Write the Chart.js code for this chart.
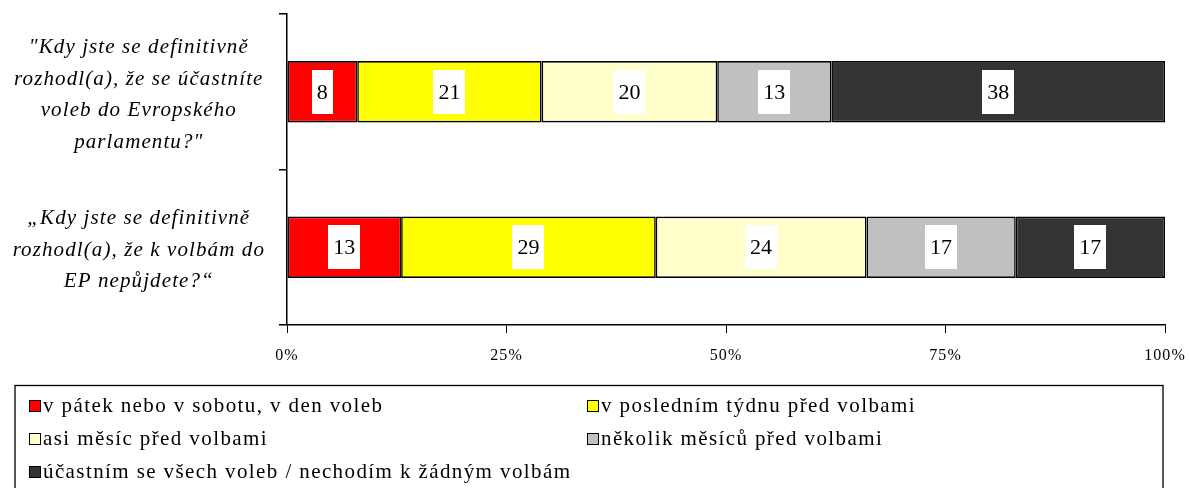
<!DOCTYPE html>
<html>
<head>
<meta charset="utf-8">
<script src="https://cdn.jsdelivr.net/npm/chart.js@4.4.1/dist/chart.umd.min.js"></script>
<style>
html,body{margin:0;padding:0;background:#fff;}
#wrap{width:1189px;height:488px;position:relative;}
</style>
</head>
<body>
<div id="wrap"><canvas id="c" width="1189" height="488"></canvas></div>
<script>
const categories = [
  ['"Kdy jste se definitivně', 'rozhodl(a), že se účastníte', 'voleb do Evropského', 'parlamentu?"'],
  ['„Kdy jste se definitivně', 'rozhodl(a), že k volbám do', 'EP nepůjdete?“']
];
const seriesNames = [
  'v pátek nebo v sobotu, v den voleb',
  'v posledním týdnu před volbami',
  'asi měsíc před volbami',
  'několik měsíců před volbami',
  'účastním se všech voleb / nechodím k žádným volbám'
];
const friSat = [8, 13];
const lastWeek = [21, 29];
const monthBefore = [20, 24];
const monthsBefore = [13, 17];
const always = [38, 17];
const tickLabels = ['0%', '25%', '50%', '75%', '100%'];
const colors = ['#FF0000', '#FFFF00', '#FFFFCC', '#C0C0C0', '#333333'];

const serif = '"Liberation Serif", "Times New Roman", serif';

const seriesValues = [friSat, lastWeek, monthBefore, monthsBefore, always];
const datasets = seriesValues.map((vals, i) => ({
  label: seriesNames[i],
  data: vals,
  backgroundColor: colors[i],
  borderColor: '#000',
  borderWidth: 1.6,
  borderSkipped: false,
  categoryPercentage: 1,
  barPercentage: 0.395
}));

const spacing = {
  id: 'spacing',
  beforeUpdate(chart) { chart.ctx.letterSpacing = '1.1px'; },
  beforeLayout(chart) { chart.ctx.letterSpacing = '1.1px'; },
  beforeDraw(chart) { chart.ctx.letterSpacing = '1.1px'; }
};

const valueLabels = {
  id: 'valueLabels',
  afterDatasetsDraw(chart) {
    const ctx = chart.ctx;
    ctx.save();
    ctx.letterSpacing = '0px';
    ctx.font = '22px ' + serif;
    ctx.textAlign = 'center';
    ctx.textBaseline = 'middle';
    chart.data.datasets.forEach((ds, di) => {
      const meta = chart.getDatasetMeta(di);
      meta.data.forEach((el, i) => {
        const v = ds.data[i];
        const txt = String(v);
        const cx = (el.x + el.base) / 2;
        const cy = el.y;
        const w = ctx.measureText(txt).width + 10;
        const h = 44;
        ctx.fillStyle = '#fff';
        ctx.fillRect(Math.round(cx - w / 2), Math.round(cy - h / 2), Math.round(w), h);
        ctx.fillStyle = '#000';
        ctx.fillText(txt, cx, cy + 1);
      });
    });
    ctx.restore();
  }
};

const boxLegend = {
  id: 'boxLegend',
  afterDraw(chart) {
    const ctx = chart.ctx;
    ctx.save();
    ctx.strokeStyle = '#000';
    ctx.lineWidth = 1.3;
    ctx.strokeRect(15, 385.5, 1148, 120);
    const colX = [29, 587];
    const rowY = [405, 438, 471];
    ctx.letterSpacing = '1.4px';
    ctx.font = '21px ' + serif;
    ctx.textBaseline = 'middle';
    ctx.textAlign = 'left';
    ctx.lineWidth = 1;
    chart.data.datasets.forEach((ds, i) => {
      const x = colX[i % 2];
      const y = rowY[Math.floor(i / 2)];
      ctx.fillStyle = ds.backgroundColor;
      ctx.fillRect(x, y - 5, 12, 12);
      ctx.strokeStyle = '#000';
      ctx.strokeRect(x + 0.5, y - 4.5, 11, 11);
      ctx.fillStyle = '#000';
      ctx.fillText(ds.label, x + 14, y + 1);
    });
    ctx.restore();
  }
};

new Chart(document.getElementById('c'), {
  type: 'bar',
  data: { labels: categories, datasets },
  plugins: [spacing, valueLabels, boxLegend],
  options: {
    indexAxis: 'y',
    responsive: false,
    animation: false,
    layout: { padding: { top: 14, right: 24, bottom: 113, left: 0 } },
    plugins: { legend: { display: false }, tooltip: { enabled: false } },
    scales: {
      x: {
        stacked: true,
        min: 0,
        max: 100,
        afterFit(s) { s.height = 50; s.paddingLeft = 0; s.paddingRight = 0; },
        border: { display: true, color: '#000', width: 1.5 },
        grid: { display: true, drawOnChartArea: false, drawTicks: true, tickLength: 8, color: '#000', lineWidth: 1 },
        ticks: {
          stepSize: 25,
          padding: 13,
          color: '#000',
          font: { family: serif, size: 16 },
          callback: (v) => tickLabels[v / 25]
        }
      },
      y: {
        stacked: true,
        afterFit(s) { s.width = 287; s.paddingTop = 0; s.paddingBottom = 0; },
        border: { display: true, color: '#000', width: 1.5 },
        grid: { display: true, offset: true, drawOnChartArea: false, drawTicks: true, tickLength: 8, color: '#000', lineWidth: 1.5 },
        ticks: {
          crossAlign: 'center',
          padding: 14,
          labelOffset: 3,
          color: '#000',
          font: { family: serif, size: 21, style: 'italic', lineHeight: 1.5 }
        }
      }
    }
  }
});
</script>
</body>
</html>
